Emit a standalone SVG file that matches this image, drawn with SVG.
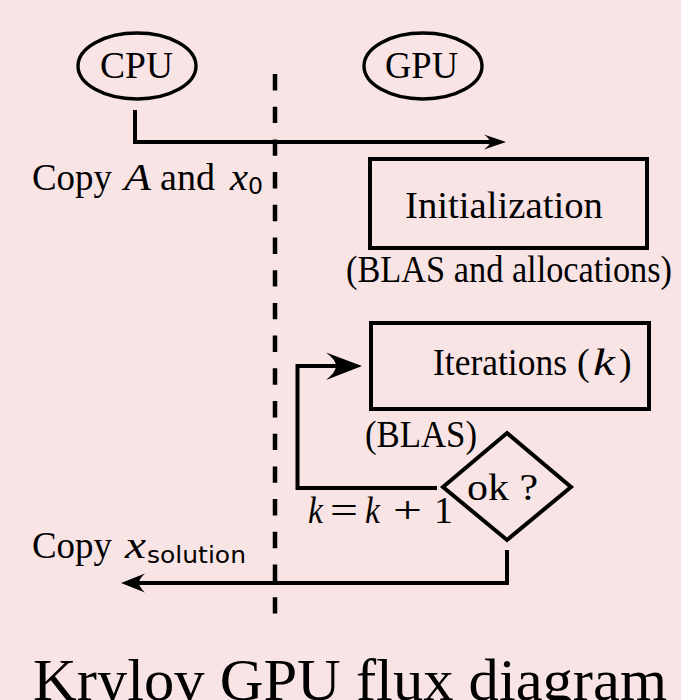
<svg xmlns="http://www.w3.org/2000/svg" width="681" height="700" viewBox="0 0 681 700">
  <style>
    .bg { fill: #f9e4e5; }
    .shape { fill: none; stroke: #000; stroke-width: 4; }
    .oval { fill: none; stroke: #000; stroke-width: 3.4; }
    .wire { fill: none; stroke: #000; stroke-width: 4; stroke-linejoin: miter; }
    .head { fill: #000; stroke: none; }
    .lane { fill: none; stroke: #000; stroke-width: 4.5; stroke-dasharray: 16.4 16.3; }
    .t { font-family: "Liberation Serif", "Times New Roman", serif; font-size: 38px; fill: #000; }
    .it { font-style: italic; }
    .sub { font-family: "DejaVu Sans", "Liberation Sans", sans-serif; font-size: 23px; fill: #000; }
    .title { font-family: "Liberation Serif", "Times New Roman", serif; font-size: 60px; fill: #000; }
  </style>

  <rect class="bg" x="0" y="0" width="681" height="700"/>

  <!-- CPU / GPU lane divider -->
  <line id="lane-divider" class="lane" x1="275" y1="74" x2="275" y2="614"/>

  <!-- lane headers -->
  <g id="cpu">
    <ellipse class="oval" cx="137" cy="66" rx="59" ry="33"/>
    <text class="t" x="100" y="78" textLength="73" lengthAdjust="spacingAndGlyphs">CPU</text>
  </g>
  <g id="gpu">
    <ellipse class="oval" cx="423" cy="66" rx="59" ry="33"/>
    <text class="t" x="385" y="78" textLength="73" lengthAdjust="spacingAndGlyphs">GPU</text>
  </g>

  <!-- process steps -->
  <g id="init">
    <rect class="shape" x="370" y="159" width="277" height="89"/>
    <text class="t" x="405" y="218" textLength="198" lengthAdjust="spacingAndGlyphs">Initialization</text>
    <text class="t" x="346" y="282" textLength="326" lengthAdjust="spacingAndGlyphs">(BLAS and allocations)</text>
  </g>
  <g id="iter">
    <rect class="shape" x="371" y="323" width="278" height="86"/>
    <text class="t" x="433" y="375" textLength="134" lengthAdjust="spacingAndGlyphs">Iterations</text>
    <text class="t" x="577" y="375">(</text>
    <text class="t it" x="593" y="375" textLength="22" lengthAdjust="spacingAndGlyphs">k</text>
    <text class="t" x="619" y="375">)</text>
    <text class="t" x="365" y="447" textLength="112" lengthAdjust="spacingAndGlyphs">(BLAS)</text>
  </g>
  <g id="check">
    <polygon class="shape" points="443,487 507,433 571,487 507,540"/>
    <text class="t" x="467" y="500" textLength="71" lengthAdjust="spacingAndGlyphs">ok ?</text>
  </g>

  <!-- connectors -->
  <g id="connectors">
    <!-- copy A and x0 to the device -->
    <path class="wire" d="M135,110 V142 H490"/>
    <path class="head" d="M506,142 L484,134.5 Q490,139 490,142 Q490,145 484,149.5 Z"/>
    <!-- loop back: k = k + 1 -->
    <path class="wire" d="M437,488 H297.5 V366 H338"/>
    <path class="head" d="M362,366 L326,352.5 Q336,360 336,366 Q336,372 326,380 Z"/>
    <!-- copy solution back to host -->
    <path class="wire" d="M507,550 V583 H138"/>
    <path class="head" d="M121,583 L145,573.5 Q139,579 139,583 Q139,587 145,592.5 Z"/>
  </g>

  <!-- transfer and update labels -->
  <g id="labels">
    <text class="t" x="32" y="190" textLength="80" lengthAdjust="spacingAndGlyphs">Copy</text>
    <text class="t it" x="124" y="190" textLength="27" lengthAdjust="spacingAndGlyphs">A</text>
    <text class="t" x="160" y="190" textLength="55" lengthAdjust="spacingAndGlyphs">and</text>
    <text class="t it" x="230" y="190" textLength="18" lengthAdjust="spacingAndGlyphs">x</text>
    <text class="sub" x="248" y="194" textLength="15" lengthAdjust="spacingAndGlyphs">0</text>

    <text class="t it" x="308" y="523" textLength="15" lengthAdjust="spacingAndGlyphs">k</text>
    <text class="t" x="330" y="523" textLength="28" lengthAdjust="spacingAndGlyphs">=</text>
    <text class="t it" x="365" y="523" textLength="15" lengthAdjust="spacingAndGlyphs">k</text>
    <text class="t" x="393" y="523" textLength="29" lengthAdjust="spacingAndGlyphs">+</text>
    <text class="t" x="434" y="523" textLength="19" lengthAdjust="spacingAndGlyphs">1</text>

    <text class="t" x="32" y="558" textLength="80" lengthAdjust="spacingAndGlyphs">Copy</text>
    <text class="t it" x="125" y="558" textLength="21" lengthAdjust="spacingAndGlyphs">x</text>
    <text class="sub" x="147" y="563" textLength="99" lengthAdjust="spacingAndGlyphs">solution</text>
  </g>

  <text class="title" x="33" y="700" textLength="634" lengthAdjust="spacingAndGlyphs">Krylov GPU flux diagram</text>
</svg>
